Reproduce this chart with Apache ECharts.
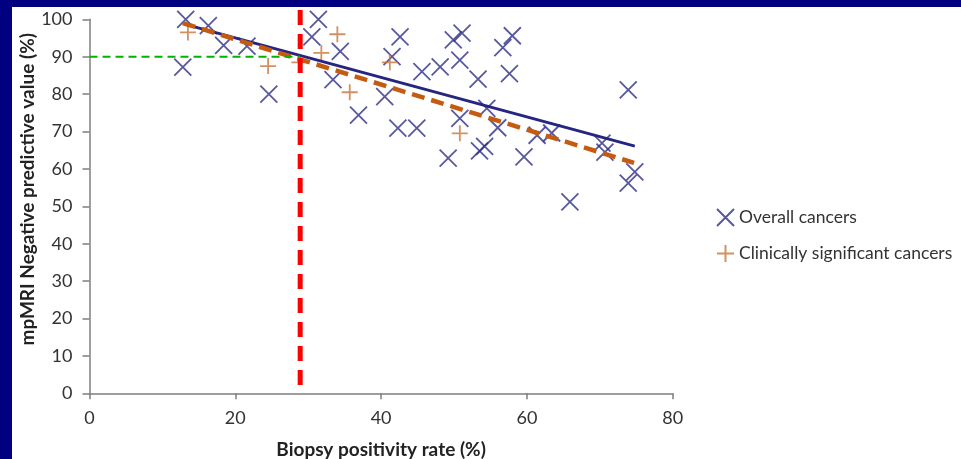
<!DOCTYPE html>
<html><head><meta charset="utf-8">
<script src="https://cdn.jsdelivr.net/npm/echarts@6/dist/echarts.min.js"></script>
<style>
html,body{margin:0;padding:0;background:#000080;}
#wrap{position:relative;width:961px;height:459px;background:#000080;overflow:hidden;}
#chart{position:absolute;left:12px;top:7px;width:949px;height:452px;background:#fff;}
</style></head>
<body><div id="wrap"><div id="chart"></div></div>
<script>
// ---- data ----
const overallX = [13.2,12.8,16.3,18.4,21.6,24.6,31.4,30.5,34.4,33.4,36.9,40.5,42.6,41.5,42.3,44.9,45.6,48.1,49.9,51.1,50.8,53.3,50.8,49.2,53.5,54.2,54.5,56.0,56.7,58.0,57.6,59.6,61.4,63.4,65.9,70.3,70.7,73.9,73.9,74.8];
const overallY = [100,87.2,98.3,93,92.8,80,100,95.3,91.4,83.9,74.4,79.3,95.3,90,70.9,70.9,86,87.3,94.5,96.3,89.1,84,73.5,62.9,64.8,66,76.2,71,92.4,95.6,85.5,63.2,69,69.6,51.2,66.9,64.5,81.1,56.2,59.2];
const sigX = [13.5,24.5,28.8,31.8,34.0,35.7,41.2,50.8];
const sigY = [96.5,87.5,88.5,91,96,80.5,88.5,69.5];
const trendOverallX = [13.4,74.8];
const trendOverallY = [98.5,66.1];
const trendSigX = [12.8,74.7];
const trendSigY = [99,61.6];
const cutoffX = 28.9;          // red vertical line
const npvTarget = 90;          // green horizontal line
const redLineY = [2.2,102.5];
const xTicks = [0,20,40,60,80];
const yTicks = [0,10,20,30,40,50,60,70,80,90,100];
const seriesNames = ['Overall cancers','Clinically significant cancers'];
const xName = 'Biopsy positivity rate (%)';
const yName = 'mpMRI Negative predictive value (%)';

const zip = (a,b)=>a.map((v,i)=>[v,b[i]]);
const crossPath = 'path://M0,0L10,10M10,0L0,10';
const plusPath = 'path://M5,0L5,10M0,5L10,5';
const navy = '#2e2e86';
const orange = '#c8743c';
const font = 'Lato, "Open Sans", sans-serif';

const chart = echarts.init(document.getElementById('chart'), null, {renderer:'canvas'});
chart.setOption({
  animation:false,
  grid:{left:77.5, top:12.3, right:288.3, bottom:65.7, containLabel:false, outerBoundsMode:'none'},
  xAxis:{type:'value', min:xTicks[0], max:xTicks[xTicks.length-1], interval:20,
    splitLine:{show:false},
    axisLine:{show:true, lineStyle:{color:'#7f7f7f', width:1.5}},
    axisTick:{show:true, length:6, lineStyle:{color:'#7f7f7f', width:1.5}},
    axisLabel:{color:'#333', fontSize:18, fontFamily:font, margin:16},
    name:xName, nameLocation:'middle', nameGap:47, nameMoveOverlap:false,
    nameTextStyle:{color:'#222', fontSize:19, fontWeight:'bold', fontFamily:font}},
  yAxis:{type:'value', min:yTicks[0], max:yTicks[yTicks.length-1], interval:10,
    splitLine:{show:false},
    axisLine:{show:true, lineStyle:{color:'#7f7f7f', width:1.5}},
    axisTick:{show:true, length:7, lineStyle:{color:'#7f7f7f', width:1.5}},
    axisLabel:{color:'#333', fontSize:18, fontFamily:font, margin:17},
    name:yName, nameLocation:'middle', nameGap:52, nameRotate:90, nameMoveOverlap:false,
    nameTextStyle:{color:'#222', fontSize:19, fontWeight:'bold', fontFamily:font, padding:[0,0,0,34]}},
  legend:{orient:'vertical', left:699, top:196, itemGap:17, itemWidth:17, itemHeight:17,
    textStyle:{color:'#333', fontSize:17.5, fontFamily:font},
    data:[{name:seriesNames[0], icon:crossPath},{name:seriesNames[1], icon:plusPath}]},
  series:[
    {name:seriesNames[0], type:'scatter', symbol:crossPath, symbolSize:17, clip:false, z:2,
      itemStyle:{color:'rgba(0,0,0,0)', borderColor:navy, borderWidth:1.8},
      data:zip(overallX, overallY)},
    {name:seriesNames[1], type:'scatter', symbol:plusPath, symbolSize:16, clip:false, z:2,
      itemStyle:{color:'rgba(0,0,0,0)', borderColor:orange, borderWidth:1.8},
      data:zip(sigX, sigY)},
    {type:'line', symbol:'none', z:3, silent:true,
      lineStyle:{color:'#262680', width:3}, data:zip(trendOverallX, trendOverallY)},
    {type:'line', symbol:'none', z:4, silent:true,
      lineStyle:{color:'#c55a11', width:4.5, type:[13,7]}, data:zip(trendSigX, trendSigY)},
    {type:'line', symbol:'none', z:5, silent:true,
      lineStyle:{color:'#00b400', width:2, type:[8,5]}, data:[[0,npvTarget],[cutoffX,npvTarget]]},
    {type:'line', symbol:'none', z:6, silent:true, clip:false,
      lineStyle:{color:'#ff0000', width:5, type:[15,9]}, data:[[cutoffX,redLineY[0]],[cutoffX,redLineY[1]]]}
  ]
});
</script></body></html>
